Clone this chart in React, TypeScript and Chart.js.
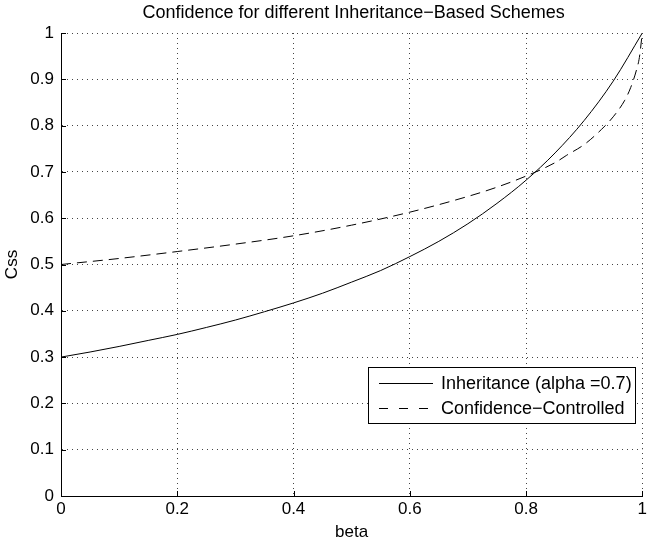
import React, { useEffect, useRef } from "react";
import { Chart, registerables } from "chart.js";
Chart.register(...registerables);

const TITLE = "Confidence for different Inheritance\u2212Based Schemes";
const X_LABEL = "beta";
const Y_LABEL = "Css";
const LEGEND_LABELS = ["Inheritance (alpha =0.7)", "Confidence\u2212Controlled"];

const betaSolid = [0, 0.05, 0.1, 0.15, 0.2, 0.25, 0.3, 0.35, 0.4, 0.45, 0.5, 0.55, 0.6, 0.65, 0.7, 0.75, 0.8, 0.85, 0.9, 0.95, 1.0];
const inheritance = [0.3, 0.311, 0.323, 0.336, 0.349, 0.364, 0.38, 0.398, 0.417, 0.438, 0.462, 0.487, 0.517, 0.55, 0.588, 0.632, 0.682, 0.741, 0.811, 0.896, 1.0];

const betaDashed = [0, 0.1, 0.2, 0.3, 0.4, 0.5, 0.6, 0.7, 0.75, 0.8, 0.85, 0.87, 0.9, 0.93, 0.95, 0.97, 0.98, 0.99, 0.995, 1.0];
const confidence = [0.5, 0.513, 0.528, 0.544, 0.562, 0.585, 0.613, 0.647, 0.667, 0.691, 0.72, 0.736, 0.759, 0.792, 0.819, 0.855, 0.882, 0.92, 0.947, 1.0];

const xTicks = [0, 0.2, 0.4, 0.6, 0.8, 1];
const yTicks = [0, 0.1, 0.2, 0.3, 0.4, 0.5, 0.6, 0.7, 0.8, 0.9, 1];

const FONT = "'Liberation Sans', Arial, Helvetica, sans-serif";
const FS = 17;
const FS_TEXT = 18;

const overlayPlugin = {
  id: "overlay",
  afterDraw(chart: any) {
    const ctx = chart.ctx;
    const area = chart.chartArea;
    const xs = chart.scales.x;
    const ys = chart.scales.y;
    ctx.save();
    ctx.strokeStyle = "#000";
    ctx.lineWidth = 1;
    ctx.beginPath();
    for (const v of xTicks) {
      const px = Math.round(xs.getPixelForValue(v)) + 0.5;
      ctx.moveTo(px, area.bottom);
      ctx.lineTo(px, area.bottom - 5);
    }
    for (const v of yTicks) {
      const py = Math.round(ys.getPixelForValue(v)) + 0.5;
      ctx.moveTo(area.left, py);
      ctx.lineTo(area.left + 5, py);
    }
    ctx.stroke();
    // title
    ctx.fillStyle = "#000";
    ctx.font = FS_TEXT + "px " + FONT;
    ctx.textAlign = "center";
    ctx.textBaseline = "middle";
    ctx.fillText(TITLE, (area.left + area.right) / 2 + 2, 13);
    // legend
    const bx = 368, by = 367, bw = 267, bh = 56;
    ctx.fillStyle = "#fff";
    ctx.fillRect(bx, by, bw, bh);
    ctx.strokeStyle = "#000";
    ctx.lineWidth = 1;
    ctx.strokeRect(bx + 0.5, by + 0.5, bw, bh);
    const rows = [383, 408];
    const dashes = [[], [9, 11]];
    for (let i = 0; i < 2; i++) {
      ctx.beginPath();
      ctx.setLineDash(dashes[i]);
      ctx.moveTo(379, rows[i] + 0.5);
      ctx.lineTo(433, rows[i] + 0.5);
      ctx.stroke();
      ctx.setLineDash([]);
      ctx.fillStyle = "#000";
      ctx.textAlign = "left";
      ctx.textBaseline = "middle";
      ctx.fillText(LEGEND_LABELS[i], 441, rows[i] + 1);
    }
    ctx.restore();
  },
};

export default function App() {
  const ref = useRef<HTMLCanvasElement>(null);
  useEffect(() => {
    if (!ref.current) return;
    const chart = new Chart(ref.current, {
      type: "line",
      data: {
        datasets: [
          {
            label: LEGEND_LABELS[0],
            data: betaSolid.map((b, i) => ({ x: b, y: inheritance[i] })),
            borderColor: "#000",
            borderWidth: 1,
            pointRadius: 0,
            cubicInterpolationMode: "monotone",
            fill: false,
          },
          {
            label: LEGEND_LABELS[1],
            data: betaDashed.map((b, i) => ({ x: b, y: confidence[i] })),
            borderColor: "#000",
            borderWidth: 1,
            borderDash: [10, 6],
            pointRadius: 0,
            cubicInterpolationMode: "monotone",
            fill: false,
          },
        ],
      },
      options: {
        animation: false,
        responsive: false,
        layout: { autoPadding: false, padding: { top: 33, right: 2, left: 0, bottom: 0 } },
        plugins: {
          legend: { display: false },
          title: { display: false },
          tooltip: { enabled: false },
        },
        scales: {
          x: {
            type: "linear",
            min: 0,
            max: 1,
            afterBuildTicks: (s: any) => {
              s.ticks = xTicks.map((v) => ({ value: v }));
            },
            afterFit: (s: any) => {
              s.height = 47;
            },
            ticks: {
              color: "#000",
              font: { family: FONT, size: FS },
              padding: 3,
              maxRotation: 0,
              autoSkip: false,
              callback: (v: any) => String(v),
            },
            grid: {
              color: "#444",
              lineWidth: 1,
              drawTicks: false,
            },
            border: { display: true, color: "#000", width: 1, dash: [1, 4] },
            title: {
              display: true,
              text: X_LABEL,
              color: "#000",
              font: { family: FONT, size: FS },
              padding: { top: 0, bottom: 0 },
            },
          },
          y: {
            type: "linear",
            min: 0,
            max: 1,
            afterBuildTicks: (s: any) => {
              s.ticks = yTicks.map((v) => ({ value: v }));
            },
            afterFit: (s: any) => {
              s.width = 61;
            },
            ticks: {
              color: "#000",
              font: { family: FONT, size: FS },
              padding: 7,
              autoSkip: false,
              callback: (v: any) => String(v),
            },
            grid: {
              color: "#444",
              lineWidth: 1,
              drawTicks: false,
            },
            border: { display: true, color: "#000", width: 1, dash: [1, 4] },
            title: {
              display: true,
              text: Y_LABEL,
              color: "#000",
              font: { family: FONT, size: FS },
              padding: { top: 2, bottom: 0 },
            },
          },
        },
      },
      plugins: [
        {
          id: "axisLines",
          afterDatasetsDraw(chart: any) {
            const ctx = chart.ctx;
            const a = chart.chartArea;
            ctx.save();
            ctx.strokeStyle = "#000";
            ctx.lineWidth = 1;
            ctx.beginPath();
            ctx.moveTo(Math.round(a.left) + 0.5, a.top);
            ctx.lineTo(Math.round(a.left) + 0.5, a.bottom + 0.5);
            ctx.lineTo(a.right, Math.round(a.bottom) + 0.5);
            ctx.stroke();
            ctx.restore();
          },
        },
        overlayPlugin,
      ],
    } as any);
    return () => chart.destroy();
  }, []);
  return (
    <div style={{ position: "absolute", left: 0, top: 0, width: 650, height: 543, background: "#fff" }}>
      <canvas ref={ref} width={650} height={543} />
    </div>
  );
}
